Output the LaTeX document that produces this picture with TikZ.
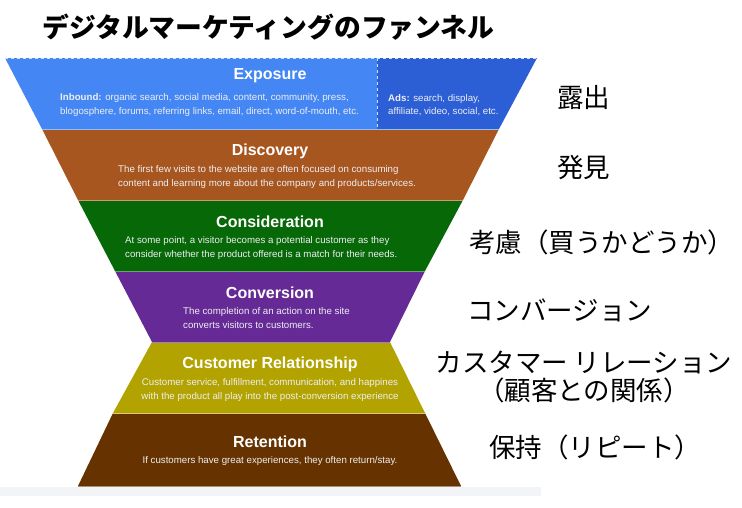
\documentclass[tikz,border=0pt]{standalone}
\usepackage{fontspec}
\setmainfont{Liberation Sans}
\newfontfamily\jpfont{Noto Sans CJK JP}
\definecolor{expoL}{HTML}{4487F4}
\definecolor{expoR}{HTML}{2C5ED6}
\definecolor{disco}{HTML}{A8561F}
\definecolor{consi}{HTML}{076807}
\definecolor{conve}{HTML}{662A96}
\definecolor{relat}{HTML}{B3A300}
\definecolor{reten}{HTML}{663300}
\definecolor{pale}{HTML}{EEEEF2}
\definecolor{strip}{HTML}{F2F4F7}

\tikzset{
  stagetitle/.style={text=white,font=\bfseries\fontsize{16}{18}\selectfont},
  stagetext/.style={text=pale,font=\fontsize{9.7}{13.5}\selectfont,align=left,anchor=west,inner sep=0pt},
  jplabel/.style={font=\jpfont\fontsize{26.5}{28}\selectfont,anchor=west,inner sep=0pt}
}

\begin{document}
\begin{tikzpicture}[x=1pt,y=-1pt]
  \useasboundingbox (0,0) rectangle (742,507);
  \node[font=\jpfont\bfseries\fontsize{26.8}{28}\selectfont,anchor=west,inner sep=0pt] (title) at (42,27)
    {デジタルマーケティングのファンネル};

  % funnel bands
  \fill[strip] (0,487) rectangle (541,496);
  \fill[expoL] (5,58) -- (377,58) -- (377,129) -- (42,129) -- cycle;
  \fill[expoR] (377,58) -- (537,58) -- (499,129) -- (377,129) -- cycle;
  \fill[disco] (42,129) -- (499,129) -- (463,200) -- (78,200) -- cycle;
  \fill[consi] (78,200) -- (463,200) -- (425,271) -- (115,271) -- cycle;
  \fill[conve] (115,271) -- (425,271) -- (390,342) -- (152,342) -- cycle;
  \fill[relat] (152,342) -- (390,342) -- (425,413) -- (113,413) -- cycle;
  \fill[reten] (113,413) -- (425,413) -- (461,486) -- (78,486) -- cycle;
  \draw[white!75!expoL,dashed,line width=.6pt] (5,58.5) -- (537,58.5);
  \draw[white!75!expoL,dashed,line width=.6pt] (377,58) -- (377,129);
  \draw[expoL!55!white,line width=1pt] (42,129) -- (499,129);
  \draw[disco!60!white,line width=1pt] (78,200) -- (463,200);
  \draw[consi!60!white,line width=1pt] (115,271) -- (425,271);
  \draw[conve!60!white,line width=1pt] (152,342) -- (390,342);
  \draw[relat!55!white,line width=1pt] (113,413) -- (425,413);
  \draw[reten!55!white,line width=1pt] (78,486) -- (461,486);

  \node[stagetitle] (expotitle) at (270,76) {Exposure};
  \node[stagetext] (expoin) at (60,105)
    {\textbf{Inbound:} organic search, social media, content, community, press,\\
     blogosphere, forums, referring links, email, direct, word-of-mouth, etc.};
  \node[stagetext] (expoads) at (388,105)
    {\textbf{Ads:} search, display,\\affiliate, video, social, etc.};

  \node[stagetitle] (discotitle) at (270,151) {Discovery};
  \node[stagetext] (discotext) at (118,177)
    {The first few visits to the website are often focused on consuming\\
     content and learning more about the company and products/services.};

  \node[stagetitle] (consititle) at (270,222) {Consideration};
  \node[stagetext] (consitext) at (125,248)
    {At some point, a visitor becomes a potential customer as they\\
     consider whether the product offered is a match for their needs.};

  \node[stagetitle] (convetitle) at (270,293) {Conversion};
  \node[stagetext] (convetext) at (183,318)
    {The completion of an action on the site\\converts visitors to customers.};

  \node[stagetitle] (relattitle) at (270,364) {Customer Relationship};
  \node[stagetext,align=center,anchor=center] (relattext) at (270,390)
    {Customer service, fulfillment, communication, and happines\\
     with the product all play into the post-conversion experience};

  \node[stagetitle] (retentitle) at (270,442) {Retention};
  \node[stagetext,anchor=center] (retentext) at (270,461)
    {If customers have great experiences, they often return/stay.};

  % japanese labels
  \node[jplabel] (roshutsu) at (557,97) {露出};
  \node[jplabel] (hakken) at (557,168) {発見};
  \node[jplabel] (kouryo) at (469,242) {考慮（買うかどうか）};
  \node[jplabel] (konbajon) at (467,310) {コンバージョン};
  \node[jplabel,anchor=center,align=center,font=\jpfont\fontsize{26.5}{28}\selectfont] (kankei) at (584,377)
    {カスタマー リレーション\\（顧客との関係）};
  \node[jplabel] (hoji) at (489,447) {保持（リピート）};
\end{tikzpicture}
\end{document}
